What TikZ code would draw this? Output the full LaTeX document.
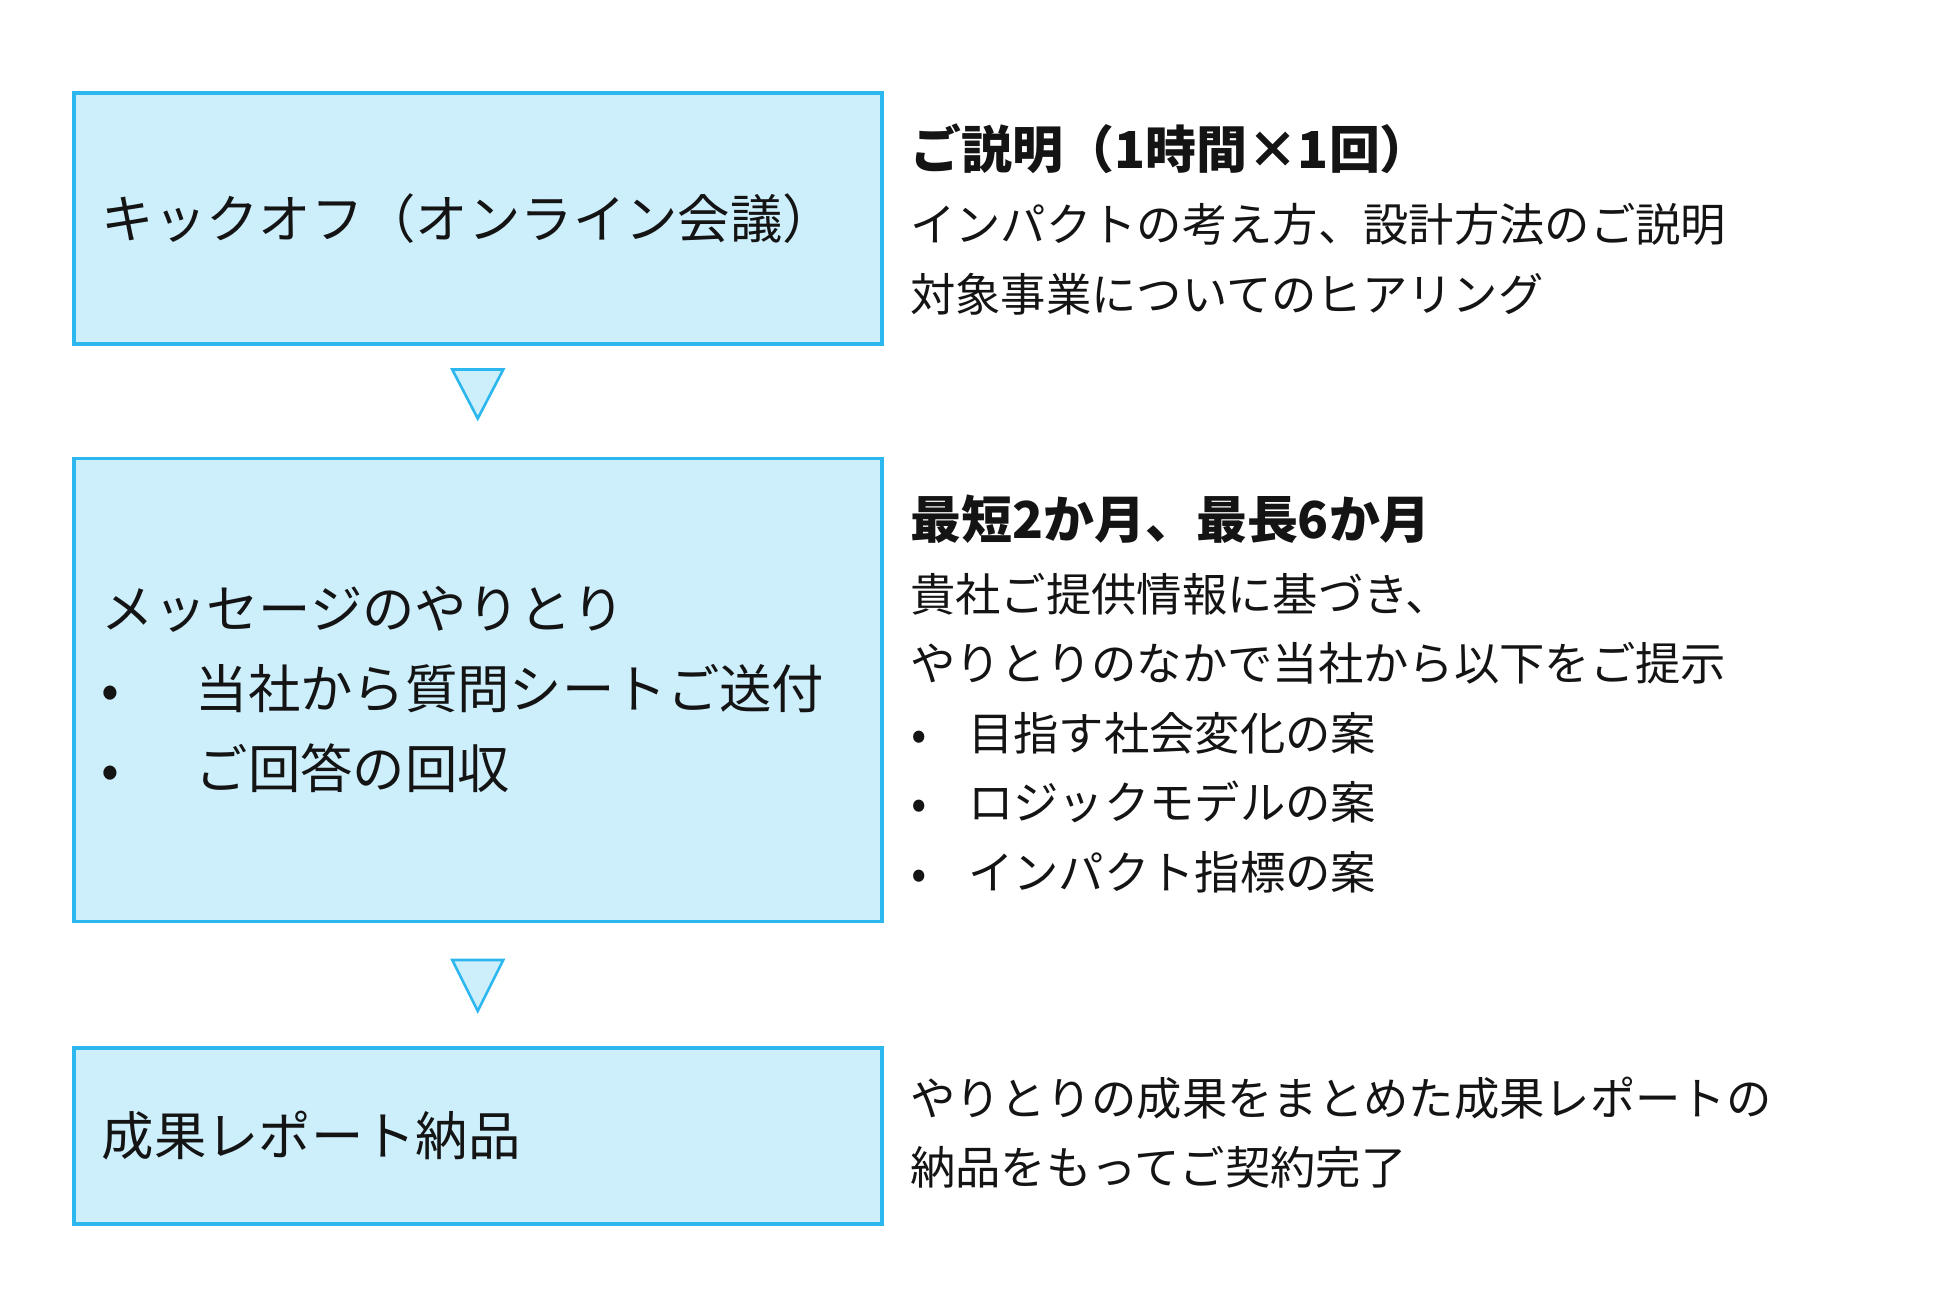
\documentclass[tikz,border=0pt]{standalone}
\usepackage{fontspec}
\usepackage{xcolor}
\usepackage{tikz}
\usetikzlibrary{positioning,calc}
\setmainfont{Noto Sans CJK JP}
\definecolor{StepBlue}{HTML}{2CB7EE}
\definecolor{StepFill}{HTML}{CDEFFC}
\definecolor{TextBlack}{HTML}{141414}
\newcommand{\lbul}{\makebox[0.94cm][l]{•}}
\newcommand{\rbul}{\makebox[0.58cm][l]{\hspace*{0.01cm}•}}

\begin{document}
\begin{tikzpicture}[
  stepbox/.style={draw=StepBlue,line width=1pt,fill=StepFill,text width=7.52cm,inner xsep=0.28cm,inner ysep=0pt,align=left,text=TextBlack,font=\fontsize{14.9}{22.8}\selectfont},
  note/.style={inner sep=0pt,text width=10.5cm,align=left,text=TextBlack,font=\fontsize{12.9}{19.8}\selectfont},
  tri/.style={draw=StepBlue,line width=0.75pt,fill=StepFill,line join=miter}
]
\useasboundingbox (0,0) rectangle (19.5,-13.02);
\node[stepbox,minimum height=2.51cm,anchor=north west] (kickoff) at (0.72,-0.91) {キックオフ（オンライン会議）};
\node[stepbox,minimum height=4.63cm,below=1.11cm of kickoff] (exchange) {メッセージのやりとり\\
\lbul 当社から質問シートご送付\\
\lbul ご回答の回収};
\node[stepbox,minimum height=1.76cm,below=1.23cm of exchange] (report) {成果レポート納品};
% notes on the right
\node[note,right=0.26cm of kickoff,yshift=-0.01cm] (kickoffnote) {{\bfseries\fontsize{14.5}{19.8}\selectfont ご説明（1時間×1回）}\\[1pt]
インパクトの考え方、設計方法のご説明\\
対象事業についてのヒアリング};
\node[note,right=0.26cm of exchange,yshift=-0.04cm] (exchangenote) {{\bfseries\fontsize{14.5}{19.8}\selectfont 最短2か月、最長6か月}\\[1pt]
貴社ご提供情報に基づき、\\
やりとりのなかで当社から以下をご提示\\
\rbul 目指す社会変化の案\\
\rbul ロジックモデルの案\\
\rbul インパクト指標の案};
\node[note,right=0.26cm of report,yshift=0.03cm] (reportnote) {やりとりの成果をまとめた成果レポートの\\
納品をもってご契約完了};
% down markers
\draw[tri] ($(kickoff.south)+(-0.255,-0.24)$) -- ++(0.51,0) -- ++(-0.255,-0.49) -- cycle;
\draw[tri] ($(exchange.south)+(-0.255,-0.37)$) -- ++(0.51,0) -- ++(-0.255,-0.51) -- cycle;
\end{tikzpicture}
\end{document}
